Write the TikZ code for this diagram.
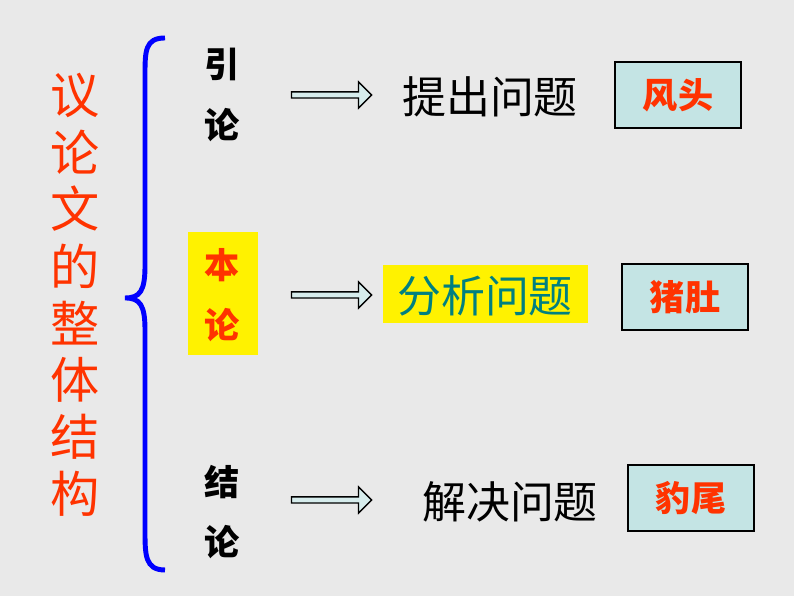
\documentclass[tikz,border=0pt]{standalone}
\usepackage{fontspec}
\newfontfamily\cjk{Noto Sans CJK SC}
\usetikzlibrary{shapes.arrows}
\definecolor{bg}{HTML}{E9E9E9}
\definecolor{hot}{HTML}{FF3300}
\definecolor{boxc}{HTML}{C4E4E4}
\definecolor{teal2}{HTML}{008080}
\begin{document}
\begin{tikzpicture}[
    side/.style={font=\cjk\fontsize{14}{14}\selectfont, text=hot},
    part/.style={font=\cjk\bfseries\fontsize{10}{10}\selectfont, align=center},
    step2/.style={font=\cjk\fontsize{12.5}{13}\selectfont},
    tag/.style={draw, fill=boxc, minimum width=1.26cm, minimum height=0.66cm, font=\cjk\bfseries\fontsize{10}{10}\selectfont, text=hot},
    harrow/.style={single arrow, draw, fill=boxc!70, minimum height=0.8cm, minimum width=0.26cm, single arrow head extend=0.08cm, inner sep=0.5pt}
]
\fill[bg] (0,0) rectangle (7.94,5.96);
\useasboundingbox (0,0) rectangle (7.94,5.96);

% left title
\foreach \c [count=\k] in {议,论,文,的,整,体,结,构} {
    \node[side] (t\k) at (0.75, 5.58-\k*0.57) {\c};
}

% brace
\draw[blue, line width=1.4pt] (1.65,5.58) .. controls (1.45,5.58) and (1.45,5.45) .. (1.45,5.2)
    -- (1.45,3.3) .. controls (1.45,3.05) and (1.40,2.98) .. (1.25,2.98)
    .. controls (1.40,2.98) and (1.45,2.91) .. (1.45,2.66)
    -- (1.45,0.66) .. controls (1.45,0.41) and (1.45,0.26) .. (1.65,0.26);

% parts
\node[part] (p1) at (2.22,5.01) {引\\[0.25cm]论};
\fill[yellow] (1.88,2.41) rectangle (2.58,3.64);
\node[part, text=hot] (p2) at (2.22,3.01) {本\\[0.25cm]论};
\node[part] (p3) at (2.22,0.84) {结\\[0.25cm]论};

% arrows
\node[harrow] (a1) at (3.3,5.01) {};
\node[harrow] (a2) at (3.3,3.01) {};
\node[harrow] (a3) at (3.3,0.96) {};

% steps
\node[step2] (s1) at (4.9,4.99) {提出问题};
\fill[yellow] (3.83,2.73) rectangle (5.88,3.31);
\node[step2, text=teal2] (s2) at (4.85,3.0) {分析问题};
\node[step2] (s3) at (5.1,0.94) {解决问题};

% tags
\node[tag] (g1) at (6.78,5.01) {风头};
\node[tag] (g2) at (6.85,2.99) {猪肚};
\node[tag] (g3) at (6.91,0.98) {豹尾};
\end{tikzpicture}
\end{document}
